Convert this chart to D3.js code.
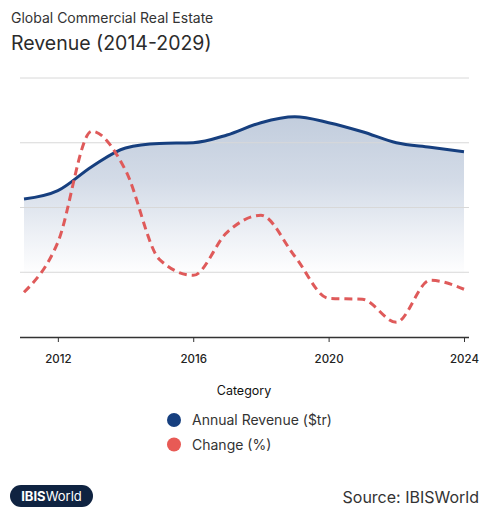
<!DOCTYPE html>
<html>
<head>
<meta charset="utf-8">
<script src="https://cdn.jsdelivr.net/npm/d3@7"></script>
<style>
  body { margin: 0; background: #fff; }
  svg { font-family: Inter, "Noto Sans", sans-serif; display: block; }
</style>
</head>
<body>
<div class="canvas"></div>
<script>
// data
const years = [2011, 2012, 2013, 2014, 2015, 2016, 2017, 2018, 2019, 2020, 2021, 2022, 2023, 2024];
const revenue = [2.13, 2.26, 2.63, 2.92, 2.99, 3.0, 3.12, 3.31, 3.4, 3.31, 3.17, 3.0, 2.93, 2.86];
const change = [-1.24, 1.85, 8.71, 6.3, 0.8, -0.19, 2.47, 3.52, 0.99, -1.61, -1.67, -3.09, -0.49, -1.05];
const xTicks = [2012, 2016, 2020, 2024];
const revTicks = [0, 1, 2, 3, 4];
const seriesNames = ['Annual Revenue ($tr)', 'Change (%)'];
const seriesColors = ['#163f7f', '#e85a55'];

const width = 487;
const height = 516;

const svg = d3.select('.canvas')
  .append('svg')
  .attr('width', width)
  .attr('height', height);

// titles
svg.append('text')
  .text('Global Commercial Real Estate')
  .attr('x', 11)
  .attr('y', 23)
  .attr('fill', '#333')
  .attr('font-size', 14);

svg.append('text')
  .text('Revenue (2014-2029)')
  .attr('x', 11)
  .attr('y', 50)
  .attr('fill', '#2b2b2b')
  .attr('font-size', 19.5);

// scales
const x = d3.scaleLinear()
  .domain([2011, 2024])
  .range([24, 464]);

const yRev = d3.scaleLinear()
  .domain([0, 4])
  .range([337, 78]);

// change shares the grid: -4..12 %
const yChg = d3.scaleLinear()
  .domain([-4, 12])
  .range([337, 78]);

// gradient for area
const defs = svg.append('defs');
const grad = defs.append('linearGradient')
  .attr('id', 'revFill')
  .attr('x1', 0).attr('x2', 0)
  .attr('gradientUnits', 'userSpaceOnUse')
  .attr('y1', yRev(3.4))
  .attr('y2', yRev(0.95));
grad.append('stop').attr('offset', 0).attr('stop-color', '#c2cddd');
grad.append('stop').attr('offset', 0.4).attr('stop-color', '#d3dbe7');
grad.append('stop').attr('offset', 0.75).attr('stop-color', '#eef1f6');
grad.append('stop').attr('offset', 1).attr('stop-color', '#ffffff');

const revData = years.map((yr, i) => ({ year: yr, value: revenue[i] }));
const chgData = years.map((yr, i) => ({ year: yr, value: change[i] }));

const area = d3.area()
  .x(d => x(d.year))
  .y0(yRev(0))
  .y1(d => yRev(d.value))
  .curve(d3.curveMonotoneX);

svg.append('path')
  .datum(revData)
  .attr('d', area)
  .attr('fill', 'url(#revFill)');

// gridlines, over the area
svg.append('g')
  .selectAll('line')
  .data(revTicks.slice(1))
  .join('line')
  .attr('x1', 20)
  .attr('x2', 469)
  .attr('y1', d => yRev(d))
  .attr('y2', d => yRev(d))
  .attr('stroke', '#d8d8d8')
  .attr('stroke-width', 1);

// x axis
const xAxis = d3.axisBottom(x)
  .tickValues(xTicks)
  .tickFormat(d3.format('d'))
  .tickSize(5)
  .tickSizeOuter(0);

const xAxisGroup = svg.append('g')
  .attr('transform', `translate(0, ${yRev(0)})`)
  .call(xAxis);

xAxisGroup.select('.domain')
  .attr('d', `M20,0.5H469`)
  .attr('stroke', '#333')
  .attr('stroke-width', 1.5);
xAxisGroup.selectAll('.tick line').attr('stroke', '#333');
xAxisGroup.selectAll('.tick text')
  .attr('fill', '#222')
  .attr('font-size', 11.5)
  .attr('font-weight', 500)
  .attr('font-family', 'Inter, sans-serif')
  .attr('dy', '1.55em');

// revenue line
const revLine = d3.line()
  .x(d => x(d.year))
  .y(d => yRev(d.value))
  .curve(d3.curveMonotoneX);

svg.append('path')
  .datum(revData)
  .attr('d', revLine)
  .attr('fill', 'none')
  .attr('stroke', seriesColors[0])
  .attr('stroke-width', 3);

// change line
const chgLine = d3.line()
  .x(d => x(d.year))
  .y(d => yChg(d.value))
  .curve(d3.curveMonotoneX);

svg.append('path')
  .datum(chgData)
  .attr('d', chgLine)
  .attr('fill', 'none')
  .attr('stroke', '#df5a5a')
  .attr('stroke-width', 3)
  .attr('stroke-dasharray', '8,5');

// axis title
svg.append('text')
  .text('Category')
  .attr('x', 244)
  .attr('y', 395)
  .attr('text-anchor', 'middle')
  .attr('fill', '#111')
  .attr('font-size', 12.5);

// legend
const legend = svg.append('g')
  .selectAll('g')
  .data(seriesNames)
  .join('g')
  .attr('transform', (d, i) => `translate(174, ${420 + i * 24.5})`);

legend.append('circle')
  .attr('r', 7)
  .attr('fill', (d, i) => seriesColors[i]);

legend.append('text')
  .text(d => d)
  .attr('x', 18)
  .attr('dy', '0.36em')
  .attr('fill', '#333')
  .attr('font-size', 14);

// footer
svg.append('rect')
  .attr('x', 10)
  .attr('y', 485)
  .attr('width', 83)
  .attr('height', 22)
  .attr('rx', 11)
  .attr('fill', '#0f2341');

const logo = svg.append('text')
  .attr('x', 51.5)
  .attr('y', 500.5)
  .attr('text-anchor', 'middle')
  .attr('fill', '#fff')
  .attr('font-size', 13);
logo.append('tspan').text('IBIS').attr('font-weight', 700);
logo.append('tspan').text('World');

svg.append('text')
  .text('Source: IBISWorld')
  .attr('x', 479)
  .attr('y', 503)
  .attr('text-anchor', 'end')
  .attr('fill', '#333')
  .attr('font-size', 16);
</script>
</body>
</html>
